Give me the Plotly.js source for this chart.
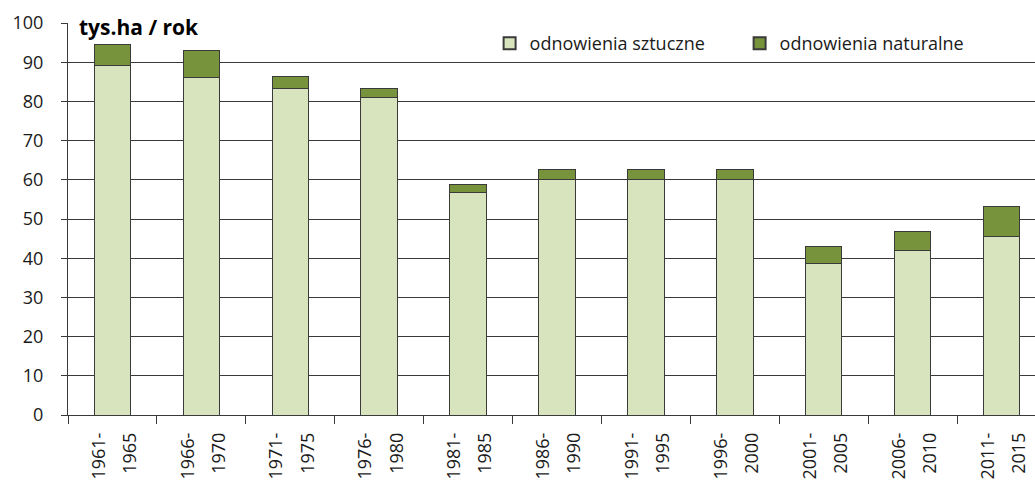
<!DOCTYPE html>
<html><head><meta charset="utf-8">
<script src="https://cdn.plot.ly/plotly-3.0.1.min.js"></script>
<style>html,body{margin:0;padding:0;background:#fff}#c{width:1035px;height:486px}</style>
</head><body><div id="c"></div>
<script>
const categories = ["1961-1965","1966-1970","1971-1975","1976-1980","1981-1985","1986-1990","1991-1995","1996-2000","2001-2005","2006-2010","2011-2015"];
const sztuczne = [89.1, 86.0, 83.2, 80.9, 56.8, 60.0, 60.0, 60.0, 38.7, 42.0, 45.5];
const naturalne = [5.4, 6.9, 3.1, 2.5, 2.0, 2.6, 2.6, 2.6, 4.4, 4.8, 7.6];
const yTicks = [0,10,20,30,40,50,60,70,80,90,100];

const tickText = categories.map(c => {
  const p = c.split("-");
  return "<span style='font-size:18px'>" + p[0] + "-</span><br><span style='font-size:18px'>" + p[1] + "</span>";
});

const font = {family: "Open Sans, sans-serif", size: 18, color: "#1a1a1a"};
const line = {color: "#3a3a3a", width: 1};

const traces = [
  {type: "bar", name: "odnowienia sztuczne", x: categories, y: sztuczne,
   marker: {color: "#d7e4bd", line: line}, width: 0.41},
  {type: "bar", name: "odnowienia naturalne", x: categories, y: naturalne,
   marker: {color: "#77933c", line: line}, width: 0.41}
];

const layout = {
  width: 1035, height: 486,
  margin: {l: 68, r: 0, t: 23, b: 71},
  barmode: "stack",
  paper_bgcolor: "#fff", plot_bgcolor: "#fff",
  font: font,
  showlegend: true,
  legend: {orientation: "h", x: 0.436, xanchor: "left", y: 0.995, yanchor: "top",
           bgcolor: "rgba(0,0,0,0)", font: {family: "Open Sans, sans-serif", size: 18, color: "#1a1a1a"},
           traceorder: "normal", itemwidth: 30, entrywidth: 205, itemsizing: "constant"},
  xaxis: {type: "category", range: [-0.5, 10.377], tickson: "boundaries",
          tickvals: categories, ticktext: tickText,
          ticks: "outside", ticklen: 8, tickcolor: "#3a3a3a", tickwidth: 1,
          showline: true, linecolor: "#3a3a3a", linewidth: 1,
          tickangle: -90, tickfont: {family: "Open Sans, sans-serif", size: 24, color: "#1a1a1a"},
          ticklabelstandoff: 7, showgrid: false, fixedrange: true},
  yaxis: {range: [0, 100], tickvals: yTicks, ticks: "outside", ticklen: 6,
          tickcolor: "#3a3a3a", showline: true, linecolor: "#3a3a3a", linewidth: 1,
          showgrid: true, gridcolor: "#3a3a3a", gridwidth: 1, zeroline: false,
          tickfont: font, ticklabelstandoff: 14},
  annotations: [{text: "<b>tys.ha / rok</b>", xref: "paper", yref: "paper", x: 0.008, y: 1.0,
                 xanchor: "left", yanchor: "middle", yshift: -4, showarrow: false, bgcolor: "#fff",
                 font: {family: "Open Sans, sans-serif", size: 21, color: "#000"}, borderpad: 2}]
};
Plotly.newPlot("c", traces, layout, {displayModeBar: false, staticPlot: true});
</script></body></html>
